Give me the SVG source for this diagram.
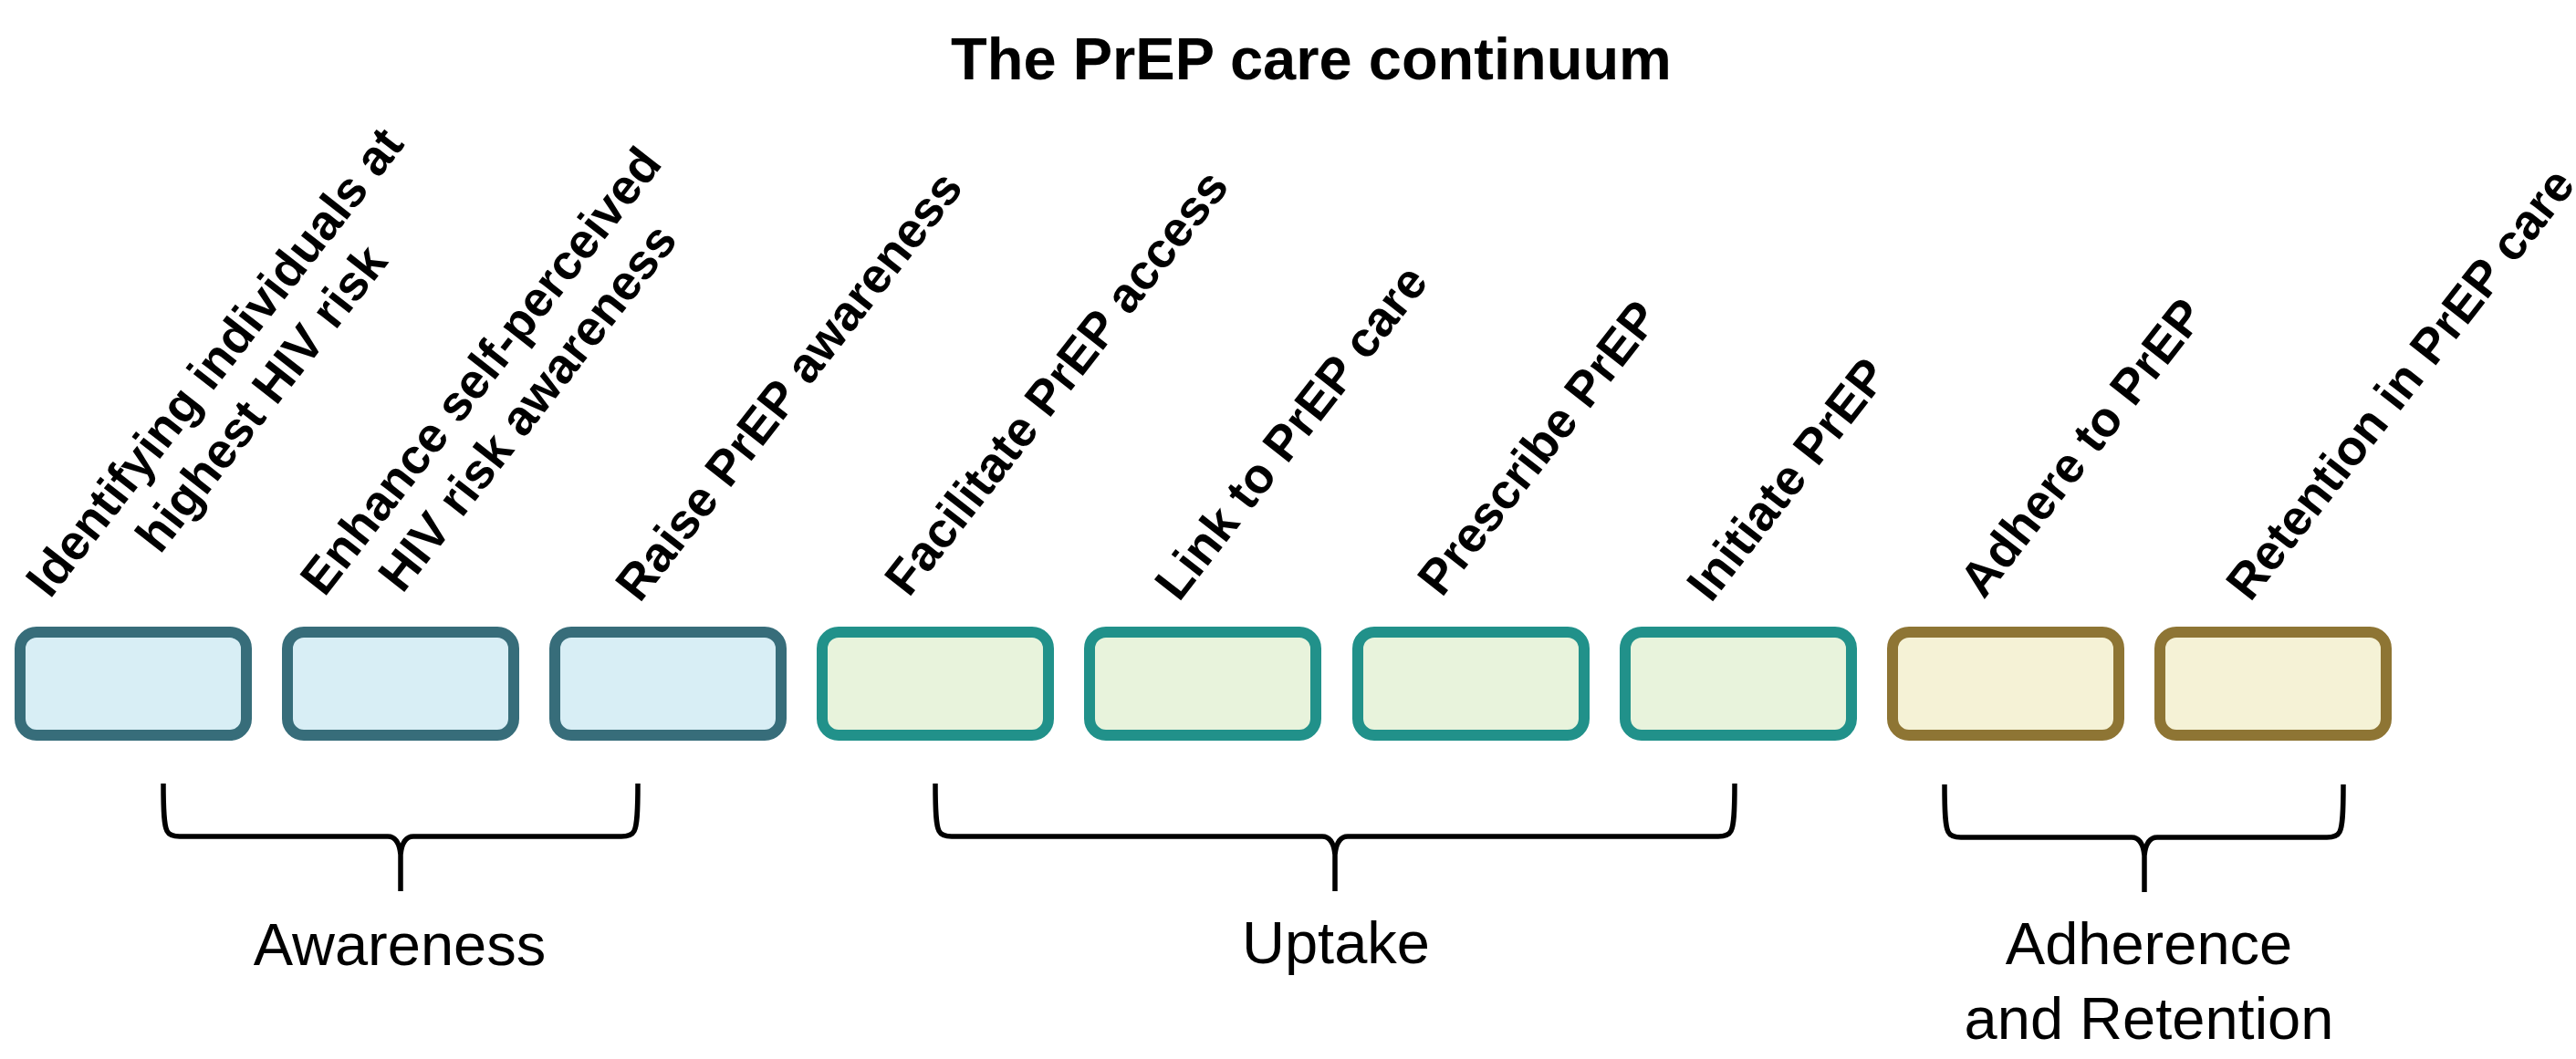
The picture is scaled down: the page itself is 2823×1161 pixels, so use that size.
<svg xmlns="http://www.w3.org/2000/svg" width="2823" height="1161" viewBox="0 0 2823 1161">
<style>
  .title { font-family: "Liberation Sans", Arial, sans-serif; font-weight: bold; font-size: 65px; fill: #000; }
  .lbl { font-family: "Liberation Sans", Arial, sans-serif; font-weight: bold; font-size: 54px; fill: #000; }
  .grp { font-family: "Liberation Sans", Arial, sans-serif; font-size: 65px; fill: #000; }
  .box { stroke-width: 12; }
  .aw { fill: #d8eef5; stroke: #376d7a; }
  .up { fill: #e8f3dc; stroke: #21918a; }
  .ad { fill: #f5f2d6; stroke: #8e7534; }
  .brace { fill: none; stroke: #000; stroke-width: 5.5; stroke-linecap: butt; stroke-linejoin: round; }
</style>
<rect width="2823" height="1161" fill="#ffffff"/>
<text class="title" x="1437" y="87" text-anchor="middle">The PrEP care continuum</text>

<g id="node-identify">
  <rect class="box aw" x="22" y="693" width="248" height="113" rx="18"/>
  <text class="lbl" transform="translate(55,657) rotate(-52)" text-anchor="middle"><tspan x="316" y="0">Identifying individuals at</tspan><tspan x="316" y="65">highest HIV risk</tspan></text>
</g>
<g id="node-enhance">
  <rect class="box aw" x="315" y="693" width="248" height="113" rx="18"/>
  <text class="lbl" transform="translate(356,655) rotate(-52)" text-anchor="middle"><tspan x="301" y="0">Enhance self-perceived</tspan><tspan x="301" y="65">HIV risk awareness</tspan></text>
</g>
<g id="node-raise">
  <rect class="box aw" x="608" y="693" width="248" height="113" rx="18"/>
  <text class="lbl" transform="translate(701,662) rotate(-52)">Raise PrEP awareness</text>
</g>
<g id="node-facilitate">
  <rect class="box up" x="901" y="693" width="248" height="113" rx="18"/>
  <text class="lbl" transform="translate(996,656) rotate(-52)">Facilitate PrEP access</text>
</g>
<g id="node-link">
  <rect class="box up" x="1194" y="693" width="248" height="113" rx="18"/>
  <text class="lbl" transform="translate(1292,661) rotate(-52)">Link to PrEP care</text>
</g>
<g id="node-prescribe">
  <rect class="box up" x="1488" y="693" width="248" height="113" rx="18"/>
  <text class="lbl" transform="translate(1580,656) rotate(-52)">Prescribe PrEP</text>
</g>
<g id="node-initiate">
  <rect class="box up" x="1781" y="693" width="248" height="113" rx="18"/>
  <text class="lbl" transform="translate(1875,662) rotate(-52)">Initiate PrEP</text>
</g>
<g id="node-adhere">
  <rect class="box ad" x="2074" y="693" width="248" height="113" rx="18"/>
  <text class="lbl" transform="translate(2174,658) rotate(-52)">Adhere to PrEP</text>
</g>
<g id="node-retention">
  <rect class="box ad" x="2367" y="693" width="248" height="113" rx="18"/>
  <text class="lbl" transform="translate(2466,661) rotate(-52)">Retention in PrEP care</text>
</g>

<g id="connectors">
  <path class="brace" d="M179,859 C179,893 180,905 183,911 Q186,917 197,917 L425,917 Q437,917 439,937 L439,977 M699,859 C699,893 698,905 695,911 Q692,917 681,917 L453,917 Q441,917 439,937"/>
  <path class="brace" d="M1025,859 C1025,893 1026,905 1029,911 Q1032,917 1043,917 L1449,917 Q1461,917 1463,937 L1463,977 M1901,859 C1901,893 1900,905 1897,911 Q1894,917 1883,917 L1477,917 Q1465,917 1463,937"/>
  <path class="brace" d="M2131,860 C2131,894 2132,906 2135,912 Q2138,918 2149,918 L2336,918 Q2348,918 2350,938 L2350,978 M2568,860 C2568,894 2567,906 2564,912 Q2561,918 2550,918 L2364,918 Q2352,918 2350,938"/>
</g>

<g id="group-labels">
  <text class="grp" x="438" y="1058" text-anchor="middle">Awareness</text>
  <text class="grp" x="1464" y="1056" text-anchor="middle">Uptake</text>
  <text class="grp" text-anchor="middle"><tspan x="2355" y="1057">Adherence</tspan><tspan x="2355" y="1139">and Retention</tspan></text>
</g>
</svg>
